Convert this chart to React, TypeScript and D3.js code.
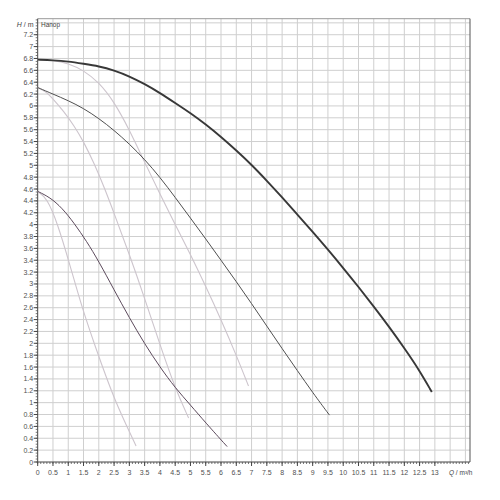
import React from 'react'
import * as d3 from 'd3'

// pump curves, [Q m3/h, H m]
const curveMax: [number, number][] = [
  [0, 6.78], [0.5, 6.77], [1, 6.75], [1.5, 6.71], [2, 6.67], [2.5, 6.6], [3, 6.5],
  [3.5, 6.37], [4, 6.22], [4.5, 6.05], [5, 5.88], [5.5, 5.69], [6, 5.48], [6.5, 5.25],
  [7, 5.01], [7.5, 4.74], [8, 4.46], [8.5, 4.17], [9, 3.88], [9.5, 3.58], [10, 3.27],
  [10.5, 2.95], [11, 2.62], [11.5, 2.28], [12, 1.92], [12.5, 1.54], [12.9, 1.18],
]
const curveMid: [number, number][] = [
  [0, 6.31], [0.5, 6.2], [1, 6.09], [1.5, 5.96], [2, 5.79], [2.5, 5.59], [3, 5.36],
  [3.5, 5.1], [4, 4.8], [4.5, 4.46], [5, 4.11], [5.5, 3.76], [6, 3.4], [6.5, 3.04],
  [7, 2.67], [7.5, 2.29], [8, 1.91], [8.5, 1.54], [9, 1.17], [9.55, 0.79],
]
const curveMin: [number, number][] = [
  [0, 4.56], [0.4, 4.46], [0.8, 4.28], [1.2, 4.02], [1.6, 3.72], [2, 3.38], [2.5, 2.9],
  [3, 2.43], [3.5, 1.99], [4, 1.6], [4.5, 1.25], [5, 0.96], [5.5, 0.66], [6.2, 0.26],
]
const lightMax: [number, number][] = [
  [0, 6.78], [0.5, 6.77], [1, 6.72], [1.5, 6.6], [2, 6.4], [2.5, 6.07], [3, 5.6],
  [3.5, 5.05], [4, 4.52], [4.5, 4.0], [5, 3.5], [5.5, 2.96], [6, 2.4], [6.5, 1.8], [6.9, 1.28],
]
const lightMid: [number, number][] = [
  [0, 6.31], [0.25, 6.25], [0.5, 6.12], [0.85, 5.91], [1.2, 5.66], [1.5, 5.4], [1.85, 5.03],
  [2.2, 4.6], [2.5, 4.19], [3, 3.5], [3.5, 2.76], [4, 1.98], [4.5, 1.24], [4.94, 0.74],
]
const lightMin: [number, number][] = [
  [0, 4.56], [0.3, 4.45], [0.65, 4.02], [1.05, 3.33], [1.45, 2.6], [1.9, 1.92],
  [2.25, 1.42], [2.55, 1.02], [2.9, 0.62], [3.22, 0.27],
]

const xTickValues = [0, 0.5, 1, 1.5, 2, 2.5, 3, 3.5, 4, 4.5, 5, 5.5, 6, 6.5, 7, 7.5, 8, 8.5, 9, 9.5, 10, 10.5, 11, 11.5, 12, 12.5, 13]
const yTickValues = [0, 0.2, 0.4, 0.6, 0.8, 1, 1.2, 1.4, 1.6, 1.8, 2, 2.2, 2.4, 2.6, 2.8, 3, 3.2, 3.4, 3.6, 3.8, 4, 4.2, 4.4, 4.6, 4.8, 5, 5.2, 5.4, 5.6, 5.8, 6, 6.2, 6.4, 6.6, 6.8, 7, 7.2]

const xMax = 14.15
const yMax = 7.47

export default function App() {
  const left = 37.7
  const right = 470
  const top = 18.7
  const bottom = 462

  const x = d3.scaleLinear().domain([0, xMax]).range([left, right])
  const y = d3.scaleLinear().domain([0, yMax]).range([bottom, top])

  const line = d3.line<[number, number]>()
    .x(d => x(d[0]))
    .y(d => y(d[1]))
    .curve(d3.curveBasis)

  const xGrid = d3.range(0.5, 14.01, 0.5)
  const yGrid = d3.range(0.2, 7.41, 0.2)
  const xMinor = d3.range(0, 14.11, 0.1)
  const yMinor = d3.range(0, 7.46, 0.05)

  const font = '"Liberation Sans", Arial, sans-serif'
  const labelColor = '#505050'

  return (
    <svg width={500} height={500} style={{ position: 'absolute', left: 0, top: 0, background: '#fff' }}>
      <g>
        {xGrid.map((v, i) => (
          <line key={'gx' + i} x1={x(v)} x2={x(v)} y1={top} y2={bottom} stroke="#cfcfcf" strokeWidth={1} />
        ))}
        {yGrid.map((v, i) => (
          <line key={'gy' + i} x1={left} x2={right} y1={y(v)} y2={y(v)} stroke="#cfcfcf" strokeWidth={1} />
        ))}
      </g>

      {/* frame */}
      <line x1={left} x2={right} y1={top} y2={top} stroke="#999" strokeWidth={1} />
      <line x1={right} x2={right} y1={top} y2={bottom} stroke="#555" strokeWidth={1} />
      <line x1={left} x2={left} y1={top} y2={bottom} stroke="#444" strokeWidth={1} />
      <line x1={left} x2={right} y1={bottom} y2={bottom} stroke="#444" strokeWidth={1} />

      {/* minor ticks */}
      {xMinor.map((v, i) => (
        <line key={'mx' + i} x1={x(v)} x2={x(v)} y1={bottom} y2={bottom + 2} stroke="#555" strokeWidth={0.8} />
      ))}
      {yMinor.map((v, i) => (
        <line key={'my' + i} x1={left - 2} x2={left} y1={y(v)} y2={y(v)} stroke="#555" strokeWidth={0.8} />
      ))}

      {/* major ticks and labels */}
      {xTickValues.map(v => (
        <g key={'tx' + v}>
          <line x1={x(v)} x2={x(v)} y1={bottom} y2={bottom + 4} stroke="#444" />
          <text x={x(v)} y={bottom + 13} textAnchor="middle" fontSize={7} fontFamily={font} fill={labelColor}>{String(v)}</text>
        </g>
      ))}
      {yTickValues.map(v => (
        <g key={'ty' + v}>
          <line x1={left - 4} x2={left} y1={y(v)} y2={y(v)} stroke="#444" />
          <text x={left - 4.5} y={y(v) + 2.5} textAnchor="end" fontSize={7} fontFamily={font} fill={labelColor}>{String(Math.round(v * 10) / 10)}</text>
        </g>
      ))}

      <text x={33.5} y={26.5} textAnchor="end" fontSize={7} fontFamily={font} fill="#444">
        <tspan fontStyle="italic">H</tspan> / m
      </text>
      <text x={41} y={26.5} fontSize={6.5} fontFamily={font} fill="#444">Напор</text>
      <text x={449} y={bottom + 13} fontSize={6.5} fontFamily={font} fill="#444">
        <tspan fontStyle="italic">Q</tspan> / m³/h
      </text>

      {/* light curves */}
      {[lightMax, lightMid, lightMin].map((c, i) => (
        <path key={'l' + i} d={line(c) || ''} fill="none" stroke="#cdc5cd" strokeWidth={1.1} />
      ))}

      {/* main curves */}
      <path d={line(curveMin) || ''} fill="none" stroke="#5c4a5c" strokeWidth={1} />
      <path d={line(curveMid) || ''} fill="none" stroke="#505050" strokeWidth={1} />
      <path d={line(curveMax) || ''} fill="none" stroke="#383838" strokeWidth={1.9} />
    </svg>
  )
}
